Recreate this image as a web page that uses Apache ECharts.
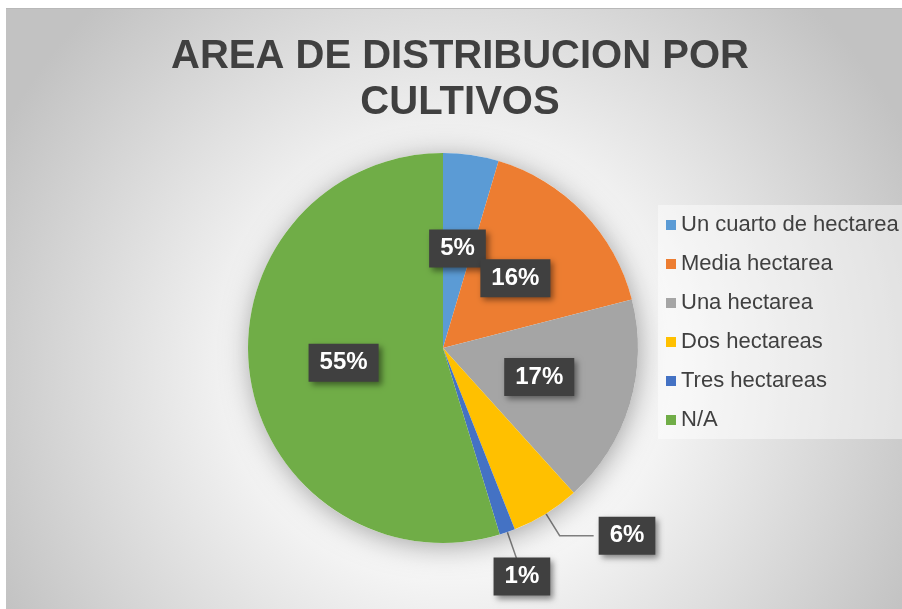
<!DOCTYPE html>
<html>
<head>
<meta charset="utf-8">
<script src="https://cdn.jsdelivr.net/npm/echarts@6/dist/echarts.min.js"></script>
<style>
  html, body { margin: 0; padding: 0; background: #fff; }
  #chart { width: 902px; height: 609px; }
</style>
</head>
<body>
<div id="chart"></div>
<script>
const categories = ['Un cuarto de hectarea', 'Media hectarea', 'Una hectarea', 'Dos hectareas', 'Tres hectareas', 'N/A']
const values = [4.6, 16.4, 17.3, 5.7, 1.3, 54.7]
const colors = ['#5B9BD5', '#ED7D31', '#A5A5A5', '#FFC000', '#4472C4', '#70AD47']
const outsideLabels = ['Dos hectareas', 'Tres hectareas']

const font = 'Arial, "Liberation Sans", sans-serif'

const pieData = categories.map((name, i) => {
  const item = { name, value: values[i], itemStyle: { color: colors[i] } }
  if (outsideLabels.includes(name)) {
    item.label = { position: 'outside' }
    item.labelLine = name === 'Tres hectareas'
      ? { show: true, length: 28, length2: 0 }
      : { show: true, length: 26, length2: 34 }
  }
  return item
})

// the 1% label sits under its leader line in the original
const labelShift = {
  'Tres hectareas': [-28, 18]
}

const chart = echarts.init(document.getElementById('chart'))

chart.setOption({
  animation: false,
  graphic: [
    {
      type: 'rect',
      z: -10,
      shape: { x: 6, y: 8, width: 896, height: 601 },
      style: {
        fill: new echarts.graphic.RadialGradient(0.5, 0.6, 0.85, [
          { offset: 0, color: '#ffffff' },
          { offset: 0.35, color: '#fafafa' },
          { offset: 1, color: '#c2c2c2' }
        ])
      }
    },
    {
      type: 'line',
      z: -9,
      shape: { x1: 6, y1: 8.5, x2: 902, y2: 8.5 },
      style: { stroke: '#b8b8b8', lineWidth: 1 }
    }
  ],
  title: {
    text: 'AREA DE DISTRIBUCION POR\nCULTIVOS',
    left: 460,
    top: 34,
    padding: 0,
    textAlign: 'center',
    textStyle: {
      fontFamily: font,
      fontSize: 40,
      fontWeight: 'bold',
      lineHeight: 46,
      color: '#404040'
    }
  },
  legend: {
    orient: 'vertical',
    left: 658,
    top: 205,
    padding: [9, 40, 8, 8],
    backgroundColor: 'rgba(255,255,255,0.45)',
    data: categories,
    icon: 'rect',
    itemWidth: 10,
    itemHeight: 10,
    itemGap: 17,
    selectedMode: false,
    textStyle: {
      fontFamily: font,
      fontSize: 22,
      lineHeight: 22,
      color: '#404040'
    }
  },
  series: [
    {
      type: 'pie',
      silent: true,
      center: [443, 348],
      radius: 195,
      label: { show: false },
      labelLine: { show: false },
      itemStyle: {
        color: '#ffffff',
        shadowBlur: 28,
        shadowColor: 'rgba(0,0,0,0.35)',
        shadowOffsetX: 2,
        shadowOffsetY: 4
      },
      data: [{ name: '', value: 1 }]
    },
    {
      type: 'pie',
      center: [443, 348],
      radius: 195,
      startAngle: 90,
      clockwise: true,
      avoidLabelOverlap: false,
      data: pieData,
      label: {
        show: true,
        position: 'inside',
        formatter: (p) => Math.round(p.percent) + '%',
        fontFamily: font,
        fontSize: 24,
        fontWeight: 'bold',
        color: '#ffffff',
        backgroundColor: '#404040',
        padding: [7, 11],
        shadowBlur: 6,
        shadowColor: 'rgba(0,0,0,0.45)',
        shadowOffsetX: 3,
        shadowOffsetY: 3
      },
      labelLine: {
        show: false,
        lineStyle: { color: '#7f7f7f', width: 1.5 }
      },
      labelLayout: (params) => {
        const shift = labelShift[categories[params.dataIndex]]
        if (shift) return { hideOverlap: false, dx: shift[0], dy: shift[1] }
        return { hideOverlap: false }
      }
    }
  ]
})
</script>
</body>
</html>
